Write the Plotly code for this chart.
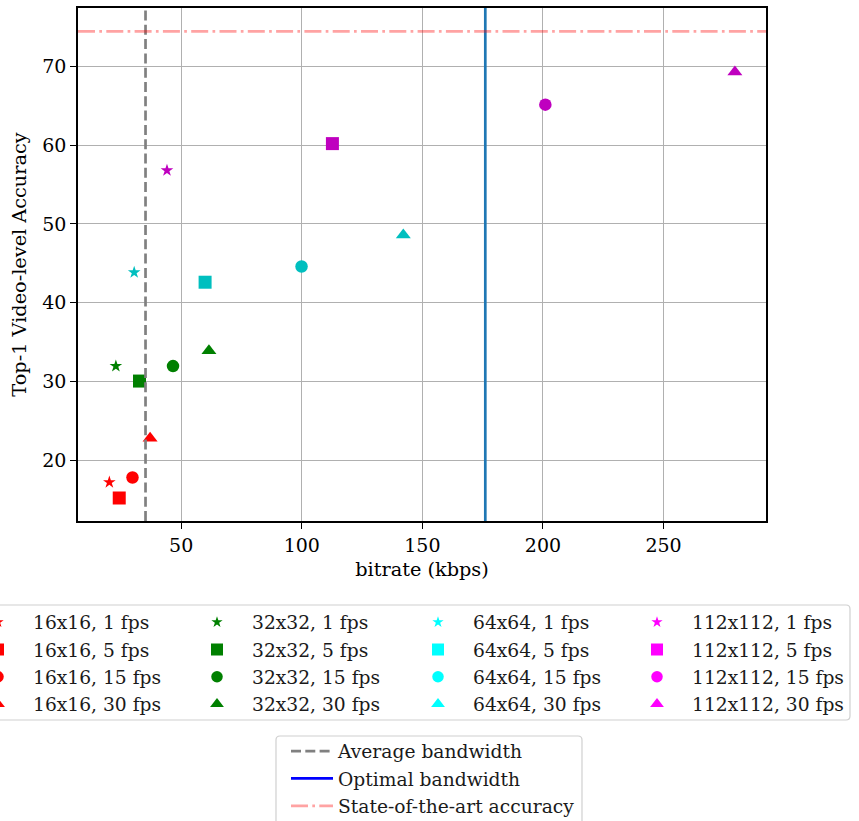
import plotly.graph_objects as go

# ---------------- data ----------------
resolutions = ["16x16", "32x32", "64x64", "112x112"]
fps_labels = ["1 fps", "5 fps", "15 fps", "30 fps"]

bitrate_16 = [20.2, 24.3, 29.8, 37.1]
acc_16 = [17.2, 15.2, 17.8, 22.8]
bitrate_32 = [22.9, 32.7, 46.6, 61.5]
acc_32 = [31.95, 30.05, 31.95, 33.9]
bitrate_64 = [30.5, 59.9, 99.9, 142.1]
acc_64 = [43.85, 42.6, 44.6, 48.6]
bitrate_112 = [44.1, 112.7, 201.0, 279.6]
acc_112 = [56.8, 60.2, 65.15, 69.3]

average_bandwidth = 35.2
optimal_bandwidth = 176.1
sota_accuracy = 74.45

x_ticks = [50, 100, 150, 200, 250]
y_ticks = [20, 30, 40, 50, 60, 70]
x_range = [7.2, 292.5]
y_range = [12.28, 77.42]

line_labels = ["Average bandwidth", "Optimal bandwidth", "State-of-the-art accuracy"]

# ---------------- style ----------------
W, H = 859, 821
L, R, T, B = 78, 93, 8, 300
PW, PH = W - L - R, H - T - B
FONT = "DejaVu Serif"
FS_TICK = 19
FS_TITLE = 19.3
FS_LEG = 18.7

plot_colors = ["#ff0000", "#008000", "#00bfbf", "#bf00bf"]
legend_colors = ["#ff0000", "#008000", "#00ffff", "#ff00ff"]
symbols = ["star", "square", "circle", "triangle-up"]
sizes = [9.5, 13, 12.5, 13]


def px_x(p):
    return (p - L) / PW


def px_y(p):
    return 1 - (p - T) / PH


bitrates = [bitrate_16, bitrate_32, bitrate_64, bitrate_112]
accs = [acc_16, acc_32, acc_64, acc_112]
legend_ids = ["legend", "legend2", "legend3", "legend4"]

fig = go.Figure()

for ri, res in enumerate(resolutions):
    for fi, fl in enumerate(fps_labels):
        fig.add_trace(go.Scatter(
            x=[bitrates[ri][fi]], y=[accs[ri][fi]], mode="markers",
            marker=dict(symbol=symbols[fi], size=sizes[fi], color=plot_colors[ri],
                        line=dict(width=0)),
            showlegend=False, hoverinfo="skip"))

# legend proxies (legend colors differ from plot colors)
for ri, res in enumerate(resolutions):
    for fi, fl in enumerate(fps_labels):
        fig.add_trace(go.Scatter(
            x=[None], y=[None], mode="markers",
            marker=dict(symbol=symbols[fi], size=sizes[fi] - 1, color=legend_colors[ri],
                        line=dict(width=0)),
            name=f"{res}, {fl}", legend=legend_ids[ri], showlegend=True))

# reference lines
fig.add_vline(x=average_bandwidth, line=dict(color="#808080", width=2.7, dash="10px,4.3px"))
fig.add_vline(x=optimal_bandwidth, line=dict(color="#1f77b4", width=2.7))
fig.add_hline(y=sota_accuracy, line=dict(color="rgba(255,0,0,0.36)", width=2.7,
                                         dash="17px,4.3px,2.7px,4.3px"))

line_styles = [
    dict(color="#808080", width=2.7, dash="10px,4.3px"),
    dict(color="#0000ff", width=2.7),
    dict(color="rgba(255,0,0,0.36)", width=2.7, dash="17px,4.3px,2.7px,4.3px"),
]
for lab, st in zip(line_labels, line_styles):
    fig.add_trace(go.Scatter(x=[None], y=[None], mode="lines", line=st, name=lab,
                             legend="legend5", showlegend=True))


def rrect(x0, y0, x1, y1, r=4):
    # rounded rectangle path in paper coords from pixel box
    rx = r / PW
    ry = r / PH
    a, b, c, d = px_x(x0), px_y(y0), px_x(x1), px_y(y1)
    return (f"M{a+rx},{b} L{c-rx},{b} Q{c},{b} {c},{b-ry} L{c},{d+ry} Q{c},{d} {c-rx},{d} "
            f"L{a+rx},{d} Q{a},{d} {a},{d+ry} L{a},{b-ry} Q{a},{b} {a+rx},{b} Z")


shapes = [
    dict(type="path", xref="paper", yref="paper", path=rrect(-8, 605, 850, 720),
         line=dict(color="#d0d0d0", width=1.2), fillcolor="white", layer="below"),
    dict(type="path", xref="paper", yref="paper", path=rrect(276, 736, 582, 840),
         line=dict(color="#d0d0d0", width=1.2), fillcolor="white", layer="below"),
]
for s in shapes:
    fig.add_shape(**s)

leg_common = dict(bgcolor="rgba(0,0,0,0)", borderwidth=0, orientation="v",
                  font=dict(family=FONT, size=FS_LEG, color="#1a1a1a"),
                  xanchor="left", yanchor="top", itemwidth=60, tracegroupgap=0)
col_text_x = [33, 252, 473, 692]
legends = {}
for lid, tx in zip(legend_ids, col_text_x):
    legends[lid] = dict(leg_common, x=px_x(tx - 70), y=px_y(603.5))
legends["legend5"] = dict(leg_common, itemwidth=42, x=px_x(338 - 52), y=px_y(732.5))

axis_common = dict(showgrid=True, gridcolor="#b0b0b0", gridwidth=1.2,
                   showline=True, linecolor="black", linewidth=1.5, mirror=True,
                   ticks="outside", ticklen=6, tickwidth=1.4, tickcolor="black",
                   tickfont=dict(family=FONT, size=FS_TICK, color="black"),
                   zeroline=False)

fig.update_layout(
    width=W, height=H,
    margin=dict(l=L, r=R, t=T, b=B, autoexpand=False),
    paper_bgcolor="white", plot_bgcolor="white",
    font=dict(family=FONT, size=FS_TICK, color="black"),
    xaxis=dict(axis_common, range=x_range, tickvals=x_ticks,
               title=dict(text="bitrate (kbps)", standoff=8,
                          font=dict(family=FONT, size=FS_TITLE, color="black"))),
    yaxis=dict(axis_common, range=y_range, tickvals=y_ticks,
               title=dict(text="Top-1 Video-level Accuracy", standoff=11,
                          font=dict(family=FONT, size=FS_TITLE, color="black"))),
    **legends,
)

fig.write_html("out.html", config={"displayModeBar": False},
               post_script="document.body.style.margin='0px';document.body.style.overflow='hidden';")
